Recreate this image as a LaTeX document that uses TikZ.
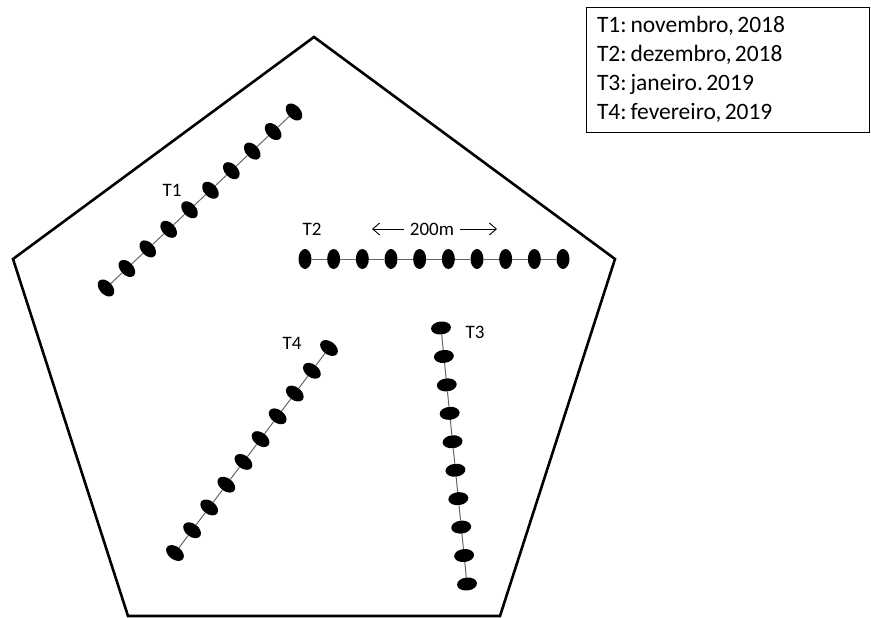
\documentclass[tikz,border=0pt]{standalone}
\usepackage{fontspec}
\setmainfont{Carlito}
\usetikzlibrary{arrows.meta,shapes.geometric,positioning,calc}
\newcommand{\gap}{\hspace{0.14em}}

\begin{document}
\begin{tikzpicture}[
    x=1pt, y=-1pt,
    area/.style={line width=2.6pt, line join=miter},
    spot/.style={ellipse, fill=black, inner sep=0pt,
      minimum width=13pt, minimum height=20pt},
    track/.style={line width=1pt, black!60},
    lab/.style={font=\fontsize{19}{21}\selectfont, inner sep=1pt},
    legend/.style={draw, line width=0.8pt, align=left, inner sep=0pt,
      minimum width=283pt, minimum height=125pt, text width=261pt,
      font=\fontsize{23.5}{29}\selectfont},
    arr/.style={-{Straight Barb[length=7pt, width=12pt]}, line width=0.9pt}
  ]
    \useasboundingbox (0,0) rectangle (871,618);
    % study area
    \draw[area] (314,37) -- (615,259) -- (500,616) -- (128,616) -- (13,259) -- cycle;
    % legend
    \node[legend] (key) at (727.5,69.5)
      {T1:\,novembro,\gap 2018\\T2:\,dezembro,\gap 2018\\T3:\,janeiro.\gap 2019\\T4:\,fevereiro,\gap 2019};
    % transects: name / start / end / angle
    \foreach \t/\sx/\sy/\ex/\ey/\ang in {t1/106/288/294/112/43.1,
        t2/305/259/563/259/0, t3/441/328/467/584/-84.2, t4/175/553/329/348/53.1} {
      \foreach \i in {0,...,9}
        \node[spot, rotate=\ang] (\t-\i) at ($(\sx,\sy)!\i/9!(\ex,\ey)$) {};
      \foreach \i [evaluate=\i as \j using int(\i+1)] in {0,...,8}
        \draw[track] (\t-\i) -- (\t-\j);
    }
    \node[lab] (lt1) at (172,190) {T1};
    \node[lab] (lt2) at (312,229) {T2};
    \node[lab] (lt3) at (475,332) {T3};
    \node[lab] (lt4) at (292,343) {T4};
    % distance between traps
    \node[lab, inner xsep=6pt] (dist) at (432,229) {200m};
    \coordinate (lend) at (372,229);
    \coordinate (rend) at (497,229);
    \draw[arr] (dist.west) -- (lend);
    \draw[arr] (dist.east) -- (rend);
\end{tikzpicture}
\end{document}
